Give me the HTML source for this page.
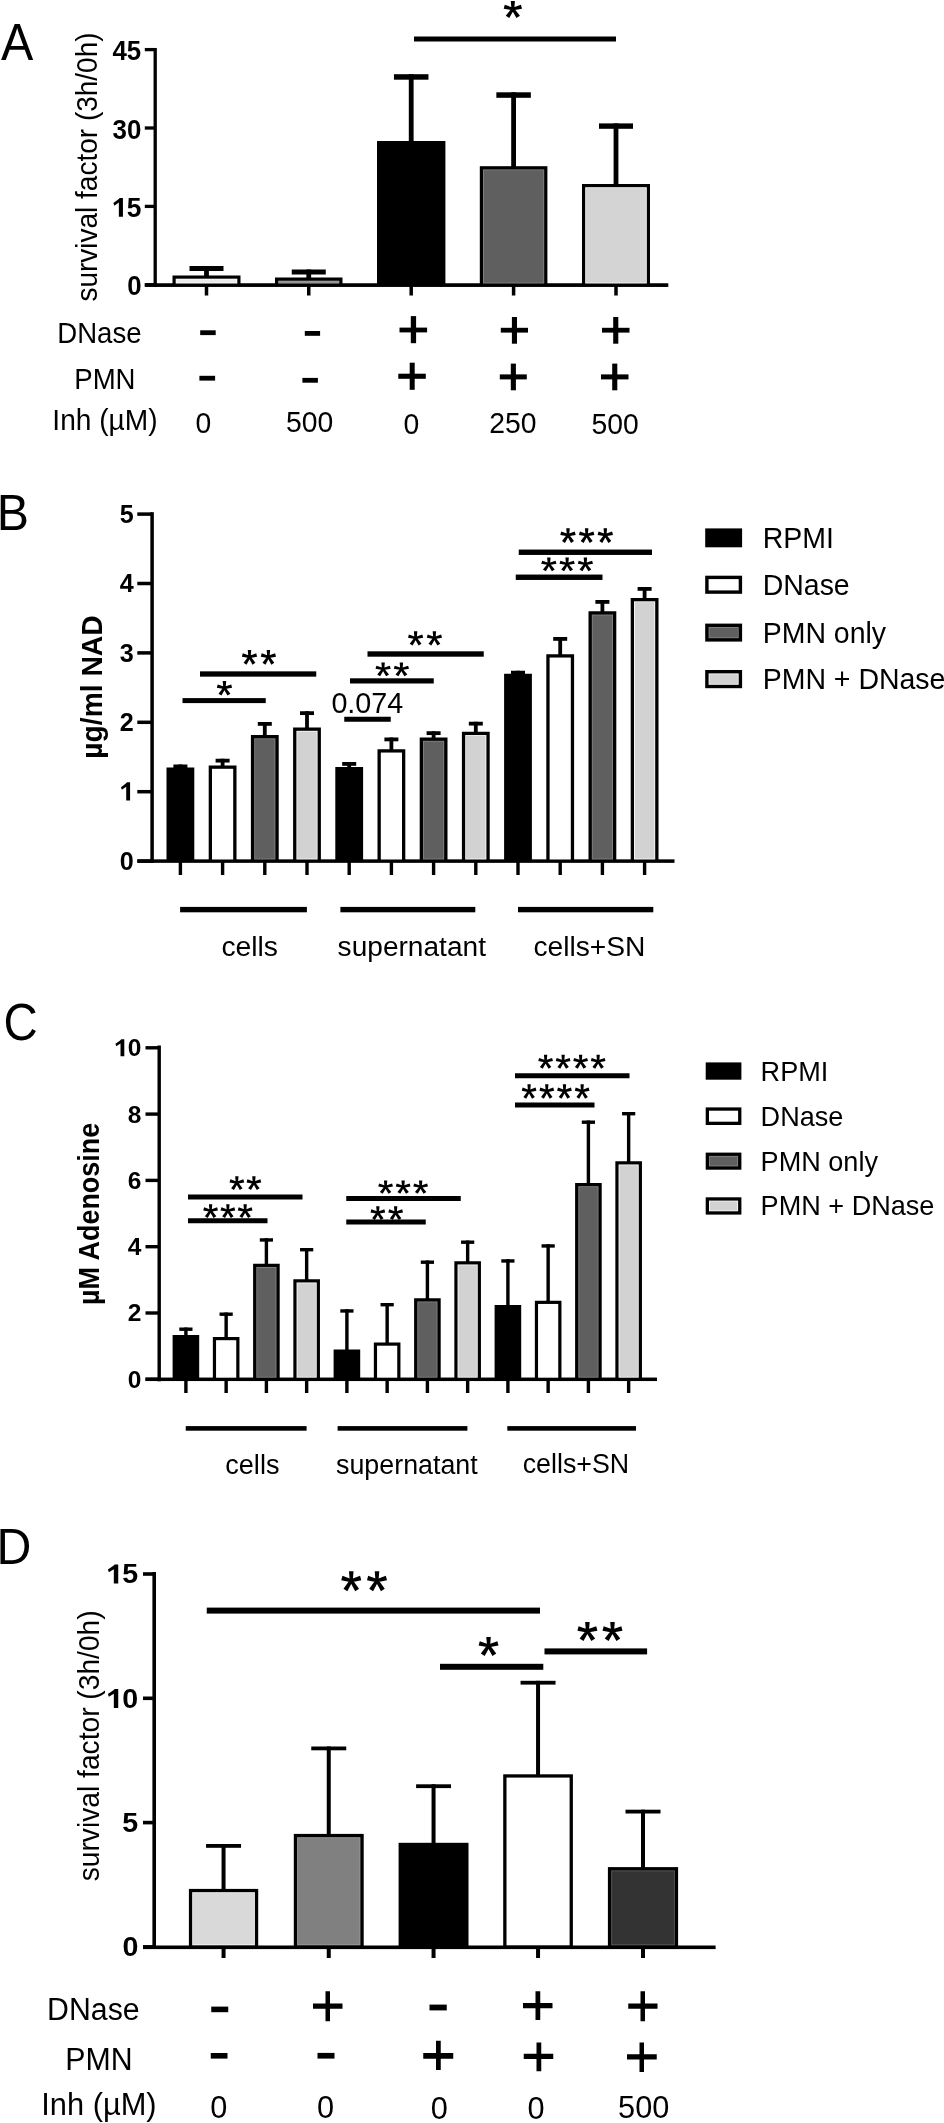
<!DOCTYPE html>
<html><head><meta charset="utf-8"><style>
html,body{margin:0;padding:0;background:#fff;}
svg{display:block;will-change:transform;}
text{font-family:"Liberation Sans", sans-serif;fill:#000;}
</style></head><body>
<svg width="944" height="2123" viewBox="0 0 944 2123">
<rect width="944" height="2123" fill="#fff"/>
<text transform="translate(1.01,60.20) scale(1,1.0539)" font-size="48.41">A</text>
<rect x="153.55" y="48.00" width="3.30" height="239.00" fill="#000"/>
<rect x="144.80" y="47.95" width="10.40" height="3.30" fill="#000"/>
<rect x="144.80" y="126.35" width="10.40" height="3.30" fill="#000"/>
<rect x="144.80" y="204.75" width="10.40" height="3.30" fill="#000"/>
<rect x="144.80" y="283.15" width="10.40" height="3.30" fill="#000"/>
<text transform="translate(112.41,60.04) scale(1,1.0384)" font-size="25.81" font-weight="bold">45</text>
<text transform="translate(112.60,138.79) scale(1,1.0648)" font-size="25.95" font-weight="bold">30</text>
<path d="M118.85,216.83 L122.93,216.83 L122.93,197.90 L119.70,197.90 L118.11,199.50 L113.36,202.94 L114.28,205.69 L118.85,202.52Z" fill="#000"/>
<text transform="translate(112.04,216.83) scale(1,1.0410)" font-size="26.43" font-weight="bold"> 5</text>
<text transform="translate(127.30,294.73) scale(1,1.0384)" font-size="25.81" font-weight="bold">0</text>
<rect x="144.80" y="283.25" width="523.50" height="3.70" fill="#000"/>
<text transform="translate(97.14,301.58) rotate(-90) scale(1,1.0270)" font-size="28.01">survival factor (3h/0h)</text>
<rect x="189.50" y="266.00" width="34.00" height="5.00" fill="#000"/>
<rect x="204.10" y="266.00" width="4.80" height="10.50" fill="#000"/>
<rect x="172.50" y="275.50" width="68.00" height="9.60" fill="#000"/>
<rect x="175.70" y="278.70" width="61.60" height="4.80" fill="#fbfbfb"/>
<rect x="176.60" y="279.60" width="59.80" height="3.00" fill="#ebebeb"/>
<rect x="204.75" y="285.00" width="3.50" height="10.50" fill="#000"/>
<rect x="291.75" y="269.50" width="34.00" height="5.00" fill="#000"/>
<rect x="306.35" y="269.50" width="4.80" height="9.00" fill="#000"/>
<rect x="275.00" y="277.50" width="67.50" height="7.60" fill="#000"/>
<rect x="278.20" y="280.70" width="61.10" height="2.80" fill="#a3a3a3"/>
<rect x="279.10" y="281.60" width="59.30" height="1.00" fill="#8a8a8a"/>
<rect x="307.00" y="285.00" width="3.50" height="10.50" fill="#000"/>
<rect x="393.95" y="74.20" width="34.50" height="5.50" fill="#000"/>
<rect x="408.80" y="74.20" width="4.80" height="67.80" fill="#000"/>
<rect x="377.00" y="141.00" width="68.40" height="144.10" fill="#000"/>
<rect x="409.45" y="285.00" width="3.50" height="10.50" fill="#000"/>
<rect x="496.35" y="92.30" width="34.50" height="5.50" fill="#000"/>
<rect x="511.20" y="92.30" width="4.80" height="74.90" fill="#000"/>
<rect x="479.80" y="166.20" width="67.60" height="118.90" fill="#000"/>
<rect x="483.00" y="169.40" width="61.20" height="114.10" fill="#828282"/>
<rect x="483.90" y="170.30" width="59.40" height="112.30" fill="#5f5f5f"/>
<rect x="511.85" y="285.00" width="3.50" height="10.50" fill="#000"/>
<rect x="599.00" y="123.40" width="34.00" height="5.40" fill="#000"/>
<rect x="613.60" y="123.40" width="4.80" height="61.60" fill="#000"/>
<rect x="582.00" y="184.00" width="68.00" height="101.10" fill="#000"/>
<rect x="585.20" y="187.20" width="61.60" height="96.30" fill="#f6f6f6"/>
<rect x="586.10" y="188.10" width="59.80" height="94.50" fill="#d4d4d4"/>
<rect x="614.25" y="285.00" width="3.50" height="10.50" fill="#000"/>
<rect x="414.00" y="36.50" width="202.00" height="5.00" fill="#000"/>
<path d="M514.24,8.98 L514.93,0.95 L510.77,0.95 L511.46,8.98Z M513.21,10.27 L522.00,8.69 L520.92,4.83 L512.49,7.69Z M513.21,7.69 L504.78,4.83 L503.70,8.69 L512.49,10.27Z M511.68,9.71 L516.47,18.00 L519.96,15.82 L514.02,8.25Z M511.68,8.25 L505.74,15.82 L509.23,18.00 L514.02,9.71Z " fill="#000"/>
<text transform="translate(57.25,342.60) scale(1,1.0850)" font-size="27.60">DNase</text>
<text transform="translate(74.23,388.80) scale(1,1.0850)" font-size="27.60">PMN</text>
<text transform="translate(52.33,429.80) scale(1,1.0700)" font-size="28.10">Inh (µM)</text>
<rect x="200.20" y="330.30" width="15.50" height="4.80" fill="#000"/>
<rect x="199.40" y="375.80" width="15.70" height="4.80" fill="#000"/>
<rect x="304.80" y="331.00" width="15.30" height="4.80" fill="#000"/>
<rect x="302.40" y="377.90" width="15.50" height="4.80" fill="#000"/>
<rect x="399.50" y="327.60" width="27.60" height="4.80" fill="#000"/>
<rect x="410.80" y="316.10" width="5.30" height="27.10" fill="#000"/>
<rect x="398.30" y="373.70" width="27.50" height="5.10" fill="#000"/>
<rect x="409.70" y="362.70" width="5.00" height="27.10" fill="#000"/>
<rect x="500.80" y="327.80" width="27.20" height="4.80" fill="#000"/>
<rect x="511.90" y="317.00" width="5.10" height="26.70" fill="#000"/>
<rect x="499.80" y="374.40" width="27.00" height="5.00" fill="#000"/>
<rect x="510.80" y="363.60" width="5.10" height="26.70" fill="#000"/>
<rect x="602.00" y="327.80" width="27.50" height="4.80" fill="#000"/>
<rect x="613.20" y="317.00" width="5.10" height="26.70" fill="#000"/>
<rect x="601.00" y="374.40" width="27.50" height="5.00" fill="#000"/>
<rect x="612.20" y="363.60" width="5.10" height="26.70" fill="#000"/>
<text transform="translate(195.58,432.90) scale(1,1.0700)" font-size="28.30">0</text>
<text transform="translate(285.93,432.30) scale(1,1.0700)" font-size="28.30">500</text>
<text transform="translate(403.48,433.50) scale(1,1.0700)" font-size="28.30">0</text>
<text transform="translate(489.33,432.70) scale(1,1.0700)" font-size="28.30">250</text>
<text transform="translate(591.53,434.20) scale(1,1.0700)" font-size="28.30">500</text>
<text transform="translate(-3.16,529.60) scale(1,1.0355)" font-size="48.29">B</text>
<rect x="150.35" y="512.20" width="3.50" height="350.80" fill="#000"/>
<rect x="137.30" y="859.35" width="14.80" height="3.50" fill="#000"/>
<rect x="137.30" y="789.95" width="14.80" height="3.50" fill="#000"/>
<rect x="137.30" y="720.55" width="14.80" height="3.50" fill="#000"/>
<rect x="137.30" y="651.15" width="14.80" height="3.50" fill="#000"/>
<rect x="137.30" y="581.75" width="14.80" height="3.50" fill="#000"/>
<rect x="137.30" y="512.35" width="14.80" height="3.50" fill="#000"/>
<text transform="translate(119.72,869.88) scale(1,1.0500)" font-size="25.15" font-weight="bold">0</text>
<path d="M126.21,800.48 L130.08,800.48 L130.08,782.32 L127.02,782.32 L125.51,783.85 L120.98,787.15 L121.86,789.79 L126.21,786.75Z" fill="#000"/>
<text transform="translate(119.72,800.48) scale(1,1.0500)" font-size="25.15" font-weight="bold"> </text>
<text transform="translate(119.72,731.08) scale(1,1.0500)" font-size="25.15" font-weight="bold">2</text>
<text transform="translate(119.72,661.68) scale(1,1.0500)" font-size="25.15" font-weight="bold">3</text>
<text transform="translate(119.72,592.28) scale(1,1.0500)" font-size="25.15" font-weight="bold">4</text>
<text transform="translate(119.72,522.88) scale(1,1.0500)" font-size="25.15" font-weight="bold">5</text>
<rect x="137.50" y="859.35" width="537.00" height="3.50" fill="#000"/>
<text transform="translate(101.90,758.75) rotate(-90) scale(1,1.0699)" font-size="28.26" font-weight="bold">µg/ml NAD</text>
<rect x="173.40" y="764.50" width="14.00" height="3.80" fill="#000"/>
<rect x="178.50" y="764.50" width="3.80" height="4.00" fill="#000"/>
<rect x="166.50" y="767.50" width="27.80" height="93.60" fill="#000"/>
<rect x="178.70" y="861.10" width="3.40" height="13.90" fill="#000"/>
<rect x="215.60" y="758.75" width="14.00" height="3.80" fill="#000"/>
<rect x="220.70" y="758.75" width="3.80" height="7.75" fill="#000"/>
<rect x="208.70" y="765.50" width="27.80" height="95.60" fill="#000"/>
<rect x="212.00" y="768.80" width="21.20" height="90.70" fill="#fff"/>
<rect x="220.90" y="861.10" width="3.40" height="13.90" fill="#000"/>
<rect x="257.80" y="722.00" width="14.00" height="3.80" fill="#000"/>
<rect x="262.90" y="722.00" width="3.80" height="14.00" fill="#000"/>
<rect x="250.90" y="735.00" width="27.80" height="126.10" fill="#000"/>
<rect x="254.20" y="738.30" width="21.20" height="121.20" fill="#828282"/>
<rect x="255.10" y="739.20" width="19.40" height="119.40" fill="#5f5f5f"/>
<rect x="263.10" y="861.10" width="3.40" height="13.90" fill="#000"/>
<rect x="300.00" y="711.25" width="14.00" height="3.80" fill="#000"/>
<rect x="305.10" y="711.25" width="3.80" height="17.25" fill="#000"/>
<rect x="293.10" y="727.50" width="27.80" height="133.60" fill="#000"/>
<rect x="296.40" y="730.80" width="21.20" height="128.70" fill="#f6f6f6"/>
<rect x="297.30" y="731.70" width="19.40" height="126.90" fill="#d2d2d2"/>
<rect x="305.30" y="861.10" width="3.40" height="13.90" fill="#000"/>
<rect x="342.20" y="762.00" width="14.00" height="3.80" fill="#000"/>
<rect x="347.30" y="762.00" width="3.80" height="6.00" fill="#000"/>
<rect x="335.30" y="767.00" width="27.80" height="94.10" fill="#000"/>
<rect x="347.50" y="861.10" width="3.40" height="13.90" fill="#000"/>
<rect x="384.40" y="737.50" width="14.00" height="3.80" fill="#000"/>
<rect x="389.50" y="737.50" width="3.80" height="12.75" fill="#000"/>
<rect x="377.50" y="749.25" width="27.80" height="111.85" fill="#000"/>
<rect x="380.80" y="752.55" width="21.20" height="106.95" fill="#fff"/>
<rect x="389.70" y="861.10" width="3.40" height="13.90" fill="#000"/>
<rect x="426.60" y="731.25" width="14.00" height="3.80" fill="#000"/>
<rect x="431.70" y="731.25" width="3.80" height="7.25" fill="#000"/>
<rect x="419.70" y="737.50" width="27.80" height="123.60" fill="#000"/>
<rect x="423.00" y="740.80" width="21.20" height="118.70" fill="#828282"/>
<rect x="423.90" y="741.70" width="19.40" height="116.90" fill="#5f5f5f"/>
<rect x="431.90" y="861.10" width="3.40" height="13.90" fill="#000"/>
<rect x="468.80" y="721.75" width="14.00" height="3.80" fill="#000"/>
<rect x="473.90" y="721.75" width="3.80" height="11.00" fill="#000"/>
<rect x="461.90" y="731.75" width="27.80" height="129.35" fill="#000"/>
<rect x="465.20" y="735.05" width="21.20" height="124.45" fill="#f6f6f6"/>
<rect x="466.10" y="735.95" width="19.40" height="122.65" fill="#d2d2d2"/>
<rect x="474.10" y="861.10" width="3.40" height="13.90" fill="#000"/>
<rect x="511.00" y="670.75" width="14.00" height="3.80" fill="#000"/>
<rect x="516.10" y="670.75" width="3.80" height="4.00" fill="#000"/>
<rect x="504.10" y="673.75" width="27.80" height="187.35" fill="#000"/>
<rect x="516.30" y="861.10" width="3.40" height="13.90" fill="#000"/>
<rect x="553.20" y="637.00" width="14.00" height="3.80" fill="#000"/>
<rect x="558.30" y="637.00" width="3.80" height="18.25" fill="#000"/>
<rect x="546.30" y="654.25" width="27.80" height="206.85" fill="#000"/>
<rect x="549.60" y="657.55" width="21.20" height="201.95" fill="#fff"/>
<rect x="558.50" y="861.10" width="3.40" height="13.90" fill="#000"/>
<rect x="595.40" y="600.00" width="14.00" height="3.80" fill="#000"/>
<rect x="600.50" y="600.00" width="3.80" height="12.25" fill="#000"/>
<rect x="588.50" y="611.25" width="27.80" height="249.85" fill="#000"/>
<rect x="591.80" y="614.55" width="21.20" height="244.95" fill="#828282"/>
<rect x="592.70" y="615.45" width="19.40" height="243.15" fill="#5f5f5f"/>
<rect x="600.70" y="861.10" width="3.40" height="13.90" fill="#000"/>
<rect x="637.60" y="587.00" width="14.00" height="3.80" fill="#000"/>
<rect x="642.70" y="587.00" width="3.80" height="12.00" fill="#000"/>
<rect x="630.70" y="598.00" width="27.80" height="263.10" fill="#000"/>
<rect x="634.00" y="601.30" width="21.20" height="258.20" fill="#f6f6f6"/>
<rect x="634.90" y="602.20" width="19.40" height="256.40" fill="#d2d2d2"/>
<rect x="642.90" y="861.10" width="3.40" height="13.90" fill="#000"/>
<rect x="182.50" y="698.10" width="83.25" height="5.00" fill="#000"/>
<path d="M225.61,687.93 L226.19,681.10 L222.71,681.10 L223.29,687.93Z M224.75,689.03 L232.10,687.69 L231.20,684.40 L224.15,686.83Z M224.75,686.83 L217.70,684.40 L216.80,687.69 L224.15,689.03Z M223.47,688.55 L227.47,695.60 L230.39,693.75 L225.43,687.31Z M223.47,687.31 L218.51,693.75 L221.43,695.60 L225.43,688.55Z " fill="#000"/>
<rect x="200.00" y="671.35" width="116.25" height="5.30" fill="#000"/>
<path d="M250.66,656.92 L251.23,650.00 L247.77,650.00 L248.34,656.92Z M249.80,658.04 L257.10,656.68 L256.21,653.35 L249.20,655.81Z M249.80,655.81 L242.79,653.35 L241.90,656.68 L249.20,658.04Z M248.53,657.55 L252.50,664.70 L255.40,662.82 L250.47,656.29Z M248.53,656.29 L243.60,662.82 L246.50,664.70 L250.47,657.55Z " fill="#000"/>
<path d="M269.56,656.92 L270.13,650.00 L266.67,650.00 L267.24,656.92Z M268.70,658.04 L276.00,656.68 L275.11,653.35 L268.10,655.81Z M268.70,655.81 L261.69,653.35 L260.80,656.68 L268.10,658.04Z M267.43,657.55 L271.40,664.70 L274.30,662.82 L269.37,656.29Z M267.43,656.29 L262.50,662.82 L265.40,664.70 L269.37,657.55Z " fill="#000"/>
<rect x="344.25" y="716.75" width="46.50" height="5.00" fill="#000"/>
<text transform="translate(331.38,712.72) scale(1,1.0068)" font-size="28.76">0.074</text>
<rect x="350.00" y="678.30" width="83.75" height="5.20" fill="#000"/>
<path d="M384.26,668.98 L384.83,662.50 L381.37,662.50 L381.94,668.98Z M383.40,670.02 L390.70,668.74 L389.81,665.63 L382.80,667.93Z M383.40,667.93 L376.39,665.63 L375.50,668.74 L382.80,670.02Z M382.13,669.56 L386.10,676.25 L389.00,674.49 L384.07,668.39Z M382.13,668.39 L377.20,674.49 L380.10,676.25 L384.07,669.56Z " fill="#000"/>
<path d="M402.56,668.98 L403.13,662.50 L399.67,662.50 L400.24,668.98Z M401.70,670.02 L409.00,668.74 L408.11,665.63 L401.10,667.93Z M401.70,667.93 L394.69,665.63 L393.80,668.74 L401.10,670.02Z M400.43,669.56 L404.40,676.25 L407.30,674.49 L402.37,668.39Z M400.43,668.39 L395.50,674.49 L398.40,676.25 L402.37,669.56Z " fill="#000"/>
<rect x="367.50" y="651.30" width="116.25" height="5.40" fill="#000"/>
<path d="M416.76,637.96 L417.33,631.25 L413.87,631.25 L414.44,637.96Z M415.90,639.04 L423.20,637.72 L422.31,634.49 L415.30,636.88Z M415.90,636.88 L408.89,634.49 L408.00,637.72 L415.30,639.04Z M414.63,638.57 L418.60,645.50 L421.50,643.68 L416.57,637.35Z M414.63,637.35 L409.70,643.68 L412.60,645.50 L416.57,638.57Z " fill="#000"/>
<path d="M435.56,637.96 L436.13,631.25 L432.67,631.25 L433.24,637.96Z M434.70,639.04 L442.00,637.72 L441.11,634.49 L434.10,636.88Z M434.70,636.88 L427.69,634.49 L426.80,637.72 L434.10,639.04Z M433.43,638.57 L437.40,645.50 L440.30,643.68 L435.37,637.35Z M433.43,637.35 L428.50,643.68 L431.40,645.50 L435.37,638.57Z " fill="#000"/>
<rect x="515.75" y="574.55" width="86.75" height="5.40" fill="#000"/>
<path d="M550.01,563.98 L550.58,557.50 L547.12,557.50 L547.69,563.98Z M549.15,565.02 L556.45,563.74 L555.56,560.63 L548.55,562.93Z M549.15,562.93 L542.14,560.63 L541.25,563.74 L548.55,565.02Z M547.88,564.56 L551.85,571.25 L554.75,569.49 L549.82,563.39Z M547.88,563.39 L542.95,569.49 L545.85,571.25 L549.82,564.56Z " fill="#000"/>
<path d="M568.28,563.98 L568.85,557.50 L565.40,557.50 L565.97,563.98Z M567.42,565.02 L574.73,563.74 L573.83,560.63 L566.83,562.93Z M567.42,562.93 L560.42,560.63 L559.52,563.74 L566.83,565.02Z M566.15,564.56 L570.13,571.25 L573.03,569.49 L568.10,563.39Z M566.15,563.39 L561.22,569.49 L564.12,571.25 L568.10,564.56Z " fill="#000"/>
<path d="M586.56,563.98 L587.13,557.50 L583.67,557.50 L584.24,563.98Z M585.70,565.02 L593.00,563.74 L592.11,560.63 L585.10,562.93Z M585.70,562.93 L578.69,560.63 L577.80,563.74 L585.10,565.02Z M584.43,564.56 L588.40,571.25 L591.30,569.49 L586.37,563.39Z M584.43,563.39 L579.50,569.49 L582.40,571.25 L586.37,564.56Z " fill="#000"/>
<rect x="518.75" y="549.55" width="133.25" height="5.40" fill="#000"/>
<path d="M569.17,535.12 L569.75,528.20 L566.25,528.20 L566.83,535.12Z M568.30,536.24 L575.70,534.88 L574.79,531.55 L567.70,534.01Z M568.30,534.01 L561.21,531.55 L560.30,534.88 L567.70,536.24Z M567.02,535.75 L571.04,542.90 L573.98,541.02 L568.98,534.49Z M567.02,534.49 L562.02,541.02 L564.96,542.90 L568.98,535.75Z " fill="#000"/>
<path d="M587.82,535.12 L588.40,528.20 L584.90,528.20 L585.48,535.12Z M586.95,536.24 L594.35,534.88 L593.44,531.55 L586.35,534.01Z M586.95,534.01 L579.86,531.55 L578.95,534.88 L586.35,536.24Z M585.67,535.75 L589.69,542.90 L592.63,541.02 L587.63,534.49Z M585.67,534.49 L580.67,541.02 L583.61,542.90 L587.63,535.75Z " fill="#000"/>
<path d="M606.47,535.12 L607.05,528.20 L603.55,528.20 L604.13,535.12Z M605.60,536.24 L613.00,534.88 L612.09,531.55 L605.00,534.01Z M605.60,534.01 L598.51,531.55 L597.60,534.88 L605.00,536.24Z M604.32,535.75 L608.34,542.90 L611.28,541.02 L606.28,534.49Z M604.32,534.49 L599.32,541.02 L602.26,542.90 L606.28,535.75Z " fill="#000"/>
<rect x="180.10" y="906.90" width="126.80" height="5.40" fill="#000"/>
<rect x="340.40" y="906.90" width="134.90" height="5.40" fill="#000"/>
<rect x="518.00" y="906.90" width="135.30" height="5.40" fill="#000"/>
<text transform="translate(221.40,956.40) scale(1,0.9946)" font-size="28.31">cells</text>
<text transform="translate(337.62,956.40) scale(1,1.0021)" font-size="28.09">supernatant</text>
<text transform="translate(533.40,956.20) scale(1,0.9980)" font-size="28.21">cells+SN</text>
<rect x="705.20" y="528.40" width="36.90" height="18.90" fill="#000"/>
<text transform="translate(762.66,547.80) scale(1,1.0450)" font-size="28.50">RPMI</text>
<rect x="705.20" y="575.70" width="36.90" height="18.10" fill="#000"/>
<rect x="708.60" y="579.10" width="30.10" height="11.30" fill="#fff"/>
<text transform="translate(762.66,594.80) scale(1,1.0450)" font-size="28.50">DNase</text>
<rect x="705.20" y="623.60" width="36.90" height="18.00" fill="#000"/>
<rect x="708.60" y="627.00" width="30.10" height="11.20" fill="#828282"/>
<rect x="709.50" y="627.90" width="28.30" height="9.40" fill="#5f5f5f"/>
<text transform="translate(762.66,642.70) scale(1,1.0450)" font-size="28.50">PMN only</text>
<rect x="705.20" y="670.00" width="36.90" height="18.20" fill="#000"/>
<rect x="708.60" y="673.40" width="30.10" height="11.40" fill="#f6f6f6"/>
<rect x="709.50" y="674.30" width="28.30" height="9.60" fill="#d2d2d2"/>
<text transform="translate(762.66,689.40) scale(1,1.0450)" font-size="28.50">PMN + DNase</text>
<text transform="translate(3.39,1039.50) scale(1,1.0793)" font-size="47.37">C</text>
<rect x="157.50" y="1045.50" width="3.40" height="335.80" fill="#000"/>
<rect x="145.50" y="1377.60" width="13.70" height="3.40" fill="#000"/>
<rect x="145.50" y="1311.30" width="13.70" height="3.40" fill="#000"/>
<rect x="145.50" y="1245.00" width="13.70" height="3.40" fill="#000"/>
<rect x="145.50" y="1178.70" width="13.70" height="3.40" fill="#000"/>
<rect x="145.50" y="1112.40" width="13.70" height="3.40" fill="#000"/>
<rect x="145.50" y="1046.10" width="13.70" height="3.40" fill="#000"/>
<text x="127.83" y="1387.73" font-size="24.50" font-weight="bold">0</text>
<text x="127.83" y="1321.43" font-size="24.50" font-weight="bold">2</text>
<text x="127.83" y="1255.13" font-size="24.50" font-weight="bold">4</text>
<text x="127.83" y="1188.83" font-size="24.50" font-weight="bold">6</text>
<text x="127.83" y="1122.53" font-size="24.50" font-weight="bold">8</text>
<path d="M120.52,1056.23 L124.30,1056.23 L124.30,1039.37 L121.31,1039.37 L119.84,1040.79 L115.43,1043.86 L116.29,1046.31 L120.52,1043.49Z" fill="#000"/>
<text x="114.20" y="1056.23" font-size="24.50" font-weight="bold"> 0</text>
<rect x="145.50" y="1377.55" width="511.50" height="3.50" fill="#000"/>
<text transform="translate(98.70,1304.96) rotate(-90) scale(1,1.0621)" font-size="26.96" font-weight="bold">µM Adenosine</text>
<rect x="179.30" y="1327.50" width="13.20" height="3.40" fill="#000"/>
<rect x="184.20" y="1327.50" width="3.40" height="8.50" fill="#000"/>
<rect x="172.60" y="1335.00" width="26.60" height="44.30" fill="#000"/>
<rect x="184.20" y="1379.30" width="3.40" height="13.70" fill="#000"/>
<rect x="219.55" y="1312.50" width="13.20" height="3.40" fill="#000"/>
<rect x="224.45" y="1312.50" width="3.40" height="25.50" fill="#000"/>
<rect x="212.85" y="1337.00" width="26.60" height="42.30" fill="#000"/>
<rect x="216.05" y="1340.20" width="20.20" height="37.50" fill="#fff"/>
<rect x="224.45" y="1379.30" width="3.40" height="13.70" fill="#000"/>
<rect x="259.80" y="1238.25" width="13.20" height="3.40" fill="#000"/>
<rect x="264.70" y="1238.25" width="3.40" height="26.50" fill="#000"/>
<rect x="253.10" y="1263.75" width="26.60" height="115.55" fill="#000"/>
<rect x="256.30" y="1266.95" width="20.20" height="110.75" fill="#828282"/>
<rect x="257.20" y="1267.85" width="18.40" height="108.95" fill="#5f5f5f"/>
<rect x="264.70" y="1379.30" width="3.40" height="13.70" fill="#000"/>
<rect x="300.05" y="1248.00" width="13.20" height="3.40" fill="#000"/>
<rect x="304.95" y="1248.00" width="3.40" height="32.25" fill="#000"/>
<rect x="293.35" y="1279.25" width="26.60" height="100.05" fill="#000"/>
<rect x="296.55" y="1282.45" width="20.20" height="95.25" fill="#f6f6f6"/>
<rect x="297.45" y="1283.35" width="18.40" height="93.45" fill="#d2d2d2"/>
<rect x="304.95" y="1379.30" width="3.40" height="13.70" fill="#000"/>
<rect x="340.30" y="1309.25" width="13.20" height="3.40" fill="#000"/>
<rect x="345.20" y="1309.25" width="3.40" height="41.25" fill="#000"/>
<rect x="333.60" y="1349.50" width="26.60" height="29.80" fill="#000"/>
<rect x="345.20" y="1379.30" width="3.40" height="13.70" fill="#000"/>
<rect x="380.55" y="1303.00" width="13.20" height="3.40" fill="#000"/>
<rect x="385.45" y="1303.00" width="3.40" height="40.50" fill="#000"/>
<rect x="373.85" y="1342.50" width="26.60" height="36.80" fill="#000"/>
<rect x="377.05" y="1345.70" width="20.20" height="32.00" fill="#fff"/>
<rect x="385.45" y="1379.30" width="3.40" height="13.70" fill="#000"/>
<rect x="420.80" y="1260.50" width="13.20" height="3.40" fill="#000"/>
<rect x="425.70" y="1260.50" width="3.40" height="38.75" fill="#000"/>
<rect x="414.10" y="1298.25" width="26.60" height="81.05" fill="#000"/>
<rect x="417.30" y="1301.45" width="20.20" height="76.25" fill="#828282"/>
<rect x="418.20" y="1302.35" width="18.40" height="74.45" fill="#5f5f5f"/>
<rect x="425.70" y="1379.30" width="3.40" height="13.70" fill="#000"/>
<rect x="461.05" y="1240.50" width="13.20" height="3.40" fill="#000"/>
<rect x="465.95" y="1240.50" width="3.40" height="21.75" fill="#000"/>
<rect x="454.35" y="1261.25" width="26.60" height="118.05" fill="#000"/>
<rect x="457.55" y="1264.45" width="20.20" height="113.25" fill="#f6f6f6"/>
<rect x="458.45" y="1265.35" width="18.40" height="111.45" fill="#d2d2d2"/>
<rect x="465.95" y="1379.30" width="3.40" height="13.70" fill="#000"/>
<rect x="501.30" y="1259.25" width="13.20" height="3.40" fill="#000"/>
<rect x="506.20" y="1259.25" width="3.40" height="46.75" fill="#000"/>
<rect x="494.60" y="1305.00" width="26.60" height="74.30" fill="#000"/>
<rect x="506.20" y="1379.30" width="3.40" height="13.70" fill="#000"/>
<rect x="541.55" y="1244.25" width="13.20" height="3.40" fill="#000"/>
<rect x="546.45" y="1244.25" width="3.40" height="57.50" fill="#000"/>
<rect x="534.85" y="1300.75" width="26.60" height="78.55" fill="#000"/>
<rect x="538.05" y="1303.95" width="20.20" height="73.75" fill="#fff"/>
<rect x="546.45" y="1379.30" width="3.40" height="13.70" fill="#000"/>
<rect x="581.80" y="1120.50" width="13.20" height="3.40" fill="#000"/>
<rect x="586.70" y="1120.50" width="3.40" height="63.50" fill="#000"/>
<rect x="575.10" y="1183.00" width="26.60" height="196.30" fill="#000"/>
<rect x="578.30" y="1186.20" width="20.20" height="191.50" fill="#828282"/>
<rect x="579.20" y="1187.10" width="18.40" height="189.70" fill="#5f5f5f"/>
<rect x="586.70" y="1379.30" width="3.40" height="13.70" fill="#000"/>
<rect x="622.05" y="1112.00" width="13.20" height="3.40" fill="#000"/>
<rect x="626.95" y="1112.00" width="3.40" height="50.25" fill="#000"/>
<rect x="615.35" y="1161.25" width="26.60" height="218.05" fill="#000"/>
<rect x="618.55" y="1164.45" width="20.20" height="213.25" fill="#f6f6f6"/>
<rect x="619.45" y="1165.35" width="18.40" height="211.45" fill="#d2d2d2"/>
<rect x="626.95" y="1379.30" width="3.40" height="13.70" fill="#000"/>
<rect x="188.00" y="1194.50" width="114.50" height="5.00" fill="#000"/>
<path d="M237.97,1182.70 L238.52,1176.20 L235.18,1176.20 L235.73,1182.70Z M237.14,1183.75 L244.20,1182.47 L243.34,1179.34 L236.56,1181.65Z M237.14,1181.65 L230.36,1179.34 L229.50,1182.47 L236.56,1183.75Z M235.91,1183.29 L239.76,1190.00 L242.56,1188.24 L237.79,1182.11Z M235.91,1182.11 L231.14,1188.24 L233.94,1190.00 L237.79,1183.29Z " fill="#000"/>
<path d="M255.02,1182.70 L255.57,1176.20 L252.23,1176.20 L252.78,1182.70Z M254.19,1183.75 L261.25,1182.47 L260.39,1179.34 L253.61,1181.65Z M254.19,1181.65 L247.41,1179.34 L246.55,1182.47 L253.61,1183.75Z M252.96,1183.29 L256.81,1190.00 L259.61,1188.24 L254.84,1182.11Z M252.96,1182.11 L248.19,1188.24 L250.99,1190.00 L254.84,1183.29Z " fill="#000"/>
<rect x="188.00" y="1218.25" width="79.50" height="5.00" fill="#000"/>
<path d="M211.72,1210.70 L212.27,1204.20 L208.93,1204.20 L209.48,1210.70Z M210.89,1211.75 L217.95,1210.47 L217.09,1207.34 L210.31,1209.65Z M210.89,1209.65 L204.11,1207.34 L203.25,1210.47 L210.31,1211.75Z M209.66,1211.29 L213.51,1218.00 L216.31,1216.24 L211.54,1210.11Z M209.66,1210.11 L204.89,1216.24 L207.69,1218.00 L211.54,1211.29Z " fill="#000"/>
<path d="M228.99,1210.70 L229.55,1204.20 L226.20,1204.20 L226.76,1210.70Z M228.16,1211.75 L235.22,1210.47 L234.36,1207.34 L227.59,1209.65Z M228.16,1209.65 L221.39,1207.34 L220.53,1210.47 L227.59,1211.75Z M226.94,1211.29 L230.78,1218.00 L233.58,1216.24 L228.81,1210.11Z M226.94,1210.11 L222.17,1216.24 L224.97,1218.00 L228.81,1211.29Z " fill="#000"/>
<path d="M246.27,1210.70 L246.82,1204.20 L243.48,1204.20 L244.03,1210.70Z M245.44,1211.75 L252.50,1210.47 L251.64,1207.34 L244.86,1209.65Z M245.44,1209.65 L238.66,1207.34 L237.80,1210.47 L244.86,1211.75Z M244.21,1211.29 L248.06,1218.00 L250.86,1216.24 L246.09,1210.11Z M244.21,1210.11 L239.44,1216.24 L242.24,1218.00 L246.09,1211.29Z " fill="#000"/>
<rect x="346.25" y="1196.00" width="114.50" height="5.00" fill="#000"/>
<path d="M386.72,1186.71 L387.27,1180.45 L383.93,1180.45 L384.48,1186.71Z M385.89,1187.72 L392.95,1186.49 L392.09,1183.48 L385.31,1185.71Z M385.89,1185.71 L379.11,1183.48 L378.25,1186.49 L385.31,1187.72Z M384.66,1187.28 L388.51,1193.75 L391.31,1192.05 L386.54,1186.15Z M384.66,1186.15 L379.89,1192.05 L382.69,1193.75 L386.54,1187.28Z " fill="#000"/>
<path d="M404.24,1186.71 L404.80,1180.45 L401.45,1180.45 L402.01,1186.71Z M403.41,1187.72 L410.47,1186.49 L409.61,1183.48 L402.84,1185.71Z M403.41,1185.71 L396.64,1183.48 L395.77,1186.49 L402.84,1187.72Z M402.19,1187.28 L406.03,1193.75 L408.83,1192.05 L404.06,1186.15Z M402.19,1186.15 L397.42,1192.05 L400.22,1193.75 L404.06,1187.28Z " fill="#000"/>
<path d="M421.77,1186.71 L422.32,1180.45 L418.98,1180.45 L419.53,1186.71Z M420.94,1187.72 L428.00,1186.49 L427.14,1183.48 L420.36,1185.71Z M420.94,1185.71 L414.16,1183.48 L413.30,1186.49 L420.36,1187.72Z M419.71,1187.28 L423.56,1193.75 L426.36,1192.05 L421.59,1186.15Z M419.71,1186.15 L414.94,1192.05 L417.74,1193.75 L421.59,1187.28Z " fill="#000"/>
<rect x="346.25" y="1219.50" width="79.50" height="5.00" fill="#000"/>
<path d="M378.97,1212.70 L379.52,1206.20 L376.18,1206.20 L376.73,1212.70Z M378.14,1213.75 L385.20,1212.47 L384.34,1209.34 L377.56,1211.65Z M378.14,1211.65 L371.36,1209.34 L370.50,1212.47 L377.56,1213.75Z M376.91,1213.29 L380.76,1220.00 L383.56,1218.24 L378.79,1212.11Z M376.91,1212.11 L372.14,1218.24 L374.94,1220.00 L378.79,1213.29Z " fill="#000"/>
<path d="M396.77,1212.70 L397.32,1206.20 L393.98,1206.20 L394.53,1212.70Z M395.94,1213.75 L403.00,1212.47 L402.14,1209.34 L395.36,1211.65Z M395.94,1211.65 L389.16,1209.34 L388.30,1212.47 L395.36,1213.75Z M394.71,1213.29 L398.56,1220.00 L401.36,1218.24 L396.59,1212.11Z M394.71,1212.11 L389.94,1218.24 L392.74,1220.00 L396.59,1213.29Z " fill="#000"/>
<rect x="515.00" y="1073.25" width="114.50" height="5.00" fill="#000"/>
<path d="M546.72,1061.32 L547.27,1054.70 L543.93,1054.70 L544.48,1061.32Z M545.89,1062.38 L552.95,1061.08 L552.09,1057.90 L545.31,1060.25Z M545.89,1060.25 L539.11,1057.90 L538.25,1061.08 L545.31,1062.38Z M544.66,1061.92 L548.51,1068.75 L551.31,1066.96 L546.54,1060.72Z M544.66,1060.72 L539.89,1066.96 L542.69,1068.75 L546.54,1061.92Z " fill="#000"/>
<path d="M564.24,1061.32 L564.79,1054.70 L561.45,1054.70 L562.00,1061.32Z M563.41,1062.38 L570.47,1061.08 L569.60,1057.90 L562.83,1060.25Z M563.41,1060.25 L556.63,1057.90 L555.77,1061.08 L562.83,1062.38Z M562.18,1061.92 L566.02,1068.75 L568.82,1066.96 L564.06,1060.72Z M562.18,1060.72 L557.41,1066.96 L560.21,1068.75 L564.06,1061.92Z " fill="#000"/>
<path d="M581.75,1061.32 L582.30,1054.70 L578.96,1054.70 L579.51,1061.32Z M580.92,1062.38 L587.98,1061.08 L587.12,1057.90 L580.34,1060.25Z M580.92,1060.25 L574.15,1057.90 L573.28,1061.08 L580.34,1062.38Z M579.69,1061.92 L583.54,1068.75 L586.34,1066.96 L581.57,1060.72Z M579.69,1060.72 L574.93,1066.96 L577.73,1068.75 L581.57,1061.92Z " fill="#000"/>
<path d="M599.27,1061.32 L599.82,1054.70 L596.48,1054.70 L597.03,1061.32Z M598.44,1062.38 L605.50,1061.08 L604.64,1057.90 L597.86,1060.25Z M598.44,1060.25 L591.66,1057.90 L590.80,1061.08 L597.86,1062.38Z M597.21,1061.92 L601.06,1068.75 L603.86,1066.96 L599.09,1060.72Z M597.21,1060.72 L592.44,1066.96 L595.24,1068.75 L599.09,1061.92Z " fill="#000"/>
<rect x="515.00" y="1102.50" width="79.50" height="5.00" fill="#000"/>
<path d="M530.22,1091.05 L530.77,1084.20 L527.43,1084.20 L527.98,1091.05Z M529.39,1092.16 L536.45,1090.81 L535.59,1087.51 L528.81,1089.95Z M529.39,1089.95 L522.61,1087.51 L521.75,1090.81 L528.81,1092.16Z M528.16,1091.67 L532.01,1098.75 L534.81,1096.89 L530.04,1090.43Z M528.16,1090.43 L523.39,1096.89 L526.19,1098.75 L530.04,1091.67Z " fill="#000"/>
<path d="M547.90,1091.05 L548.45,1084.20 L545.11,1084.20 L545.66,1091.05Z M547.07,1092.16 L554.13,1090.81 L553.27,1087.51 L546.49,1089.95Z M547.07,1089.95 L540.30,1087.51 L539.43,1090.81 L546.49,1092.16Z M545.84,1091.67 L549.69,1098.75 L552.49,1096.89 L547.72,1090.43Z M545.84,1090.43 L541.08,1096.89 L543.88,1098.75 L547.72,1091.67Z " fill="#000"/>
<path d="M565.59,1091.05 L566.14,1084.20 L562.80,1084.20 L563.35,1091.05Z M564.76,1092.16 L571.82,1090.81 L570.95,1087.51 L564.18,1089.95Z M564.76,1089.95 L557.98,1087.51 L557.12,1090.81 L564.18,1092.16Z M563.53,1091.67 L567.37,1098.75 L570.17,1096.89 L565.41,1090.43Z M563.53,1090.43 L558.76,1096.89 L561.56,1098.75 L565.41,1091.67Z " fill="#000"/>
<path d="M583.27,1091.05 L583.82,1084.20 L580.48,1084.20 L581.03,1091.05Z M582.44,1092.16 L589.50,1090.81 L588.64,1087.51 L581.86,1089.95Z M582.44,1089.95 L575.66,1087.51 L574.80,1090.81 L581.86,1092.16Z M581.21,1091.67 L585.06,1098.75 L587.86,1096.89 L583.09,1090.43Z M581.21,1090.43 L576.44,1096.89 L579.24,1098.75 L583.09,1091.67Z " fill="#000"/>
<rect x="185.75" y="1426.10" width="120.85" height="4.60" fill="#000"/>
<rect x="337.60" y="1426.10" width="129.80" height="4.60" fill="#000"/>
<rect x="507.30" y="1426.10" width="128.70" height="4.60" fill="#000"/>
<text transform="translate(225.25,1474.00) scale(1,1.0233)" font-size="27.11">cells</text>
<text transform="translate(336.05,1473.60) scale(1,1.0138)" font-size="26.82">supernatant</text>
<text transform="translate(522.66,1473.40) scale(1,0.9977)" font-size="26.83">cells+SN</text>
<rect x="705.70" y="1062.40" width="35.70" height="17.30" fill="#000"/>
<text transform="translate(760.58,1080.60) scale(1,1.0450)" font-size="27.10">RPMI</text>
<rect x="705.70" y="1107.40" width="35.70" height="17.60" fill="#000"/>
<rect x="709.00" y="1110.70" width="29.10" height="11.00" fill="#fff"/>
<text transform="translate(760.58,1125.80) scale(1,1.0450)" font-size="27.10">DNase</text>
<rect x="705.70" y="1152.60" width="35.70" height="17.10" fill="#000"/>
<rect x="709.00" y="1155.90" width="29.10" height="10.50" fill="#828282"/>
<rect x="709.90" y="1156.80" width="27.30" height="8.70" fill="#5f5f5f"/>
<text transform="translate(760.58,1171.10) scale(1,1.0450)" font-size="27.10">PMN only</text>
<rect x="705.70" y="1197.30" width="35.70" height="17.30" fill="#000"/>
<rect x="709.00" y="1200.60" width="29.10" height="10.70" fill="#f6f6f6"/>
<rect x="709.90" y="1201.50" width="27.30" height="8.90" fill="#d2d2d2"/>
<text transform="translate(760.58,1215.00) scale(1,1.0450)" font-size="27.10">PMN + DNase</text>
<text transform="translate(-3.46,1563.80) scale(1,1.0415)" font-size="48.29">D</text>
<rect x="152.40" y="1572.00" width="3.60" height="377.00" fill="#000"/>
<rect x="143.00" y="1945.10" width="11.20" height="3.60" fill="#000"/>
<rect x="143.00" y="1820.80" width="11.20" height="3.60" fill="#000"/>
<rect x="143.00" y="1696.50" width="11.20" height="3.60" fill="#000"/>
<rect x="143.00" y="1572.20" width="11.20" height="3.60" fill="#000"/>
<path d="M113.83,1583.48 L118.24,1583.48 L118.24,1564.50 L114.75,1564.50 L113.03,1566.10 L107.88,1569.55 L108.88,1572.31 L113.83,1569.13Z" fill="#000"/>
<text transform="translate(106.45,1583.48) scale(1,0.9635)" font-size="28.63" font-weight="bold"> 5</text>
<path d="M113.83,1707.99 L118.24,1707.99 L118.24,1689.01 L114.75,1689.01 L113.03,1690.61 L107.88,1694.06 L108.88,1696.82 L113.83,1693.64Z" fill="#000"/>
<text transform="translate(106.45,1707.99) scale(1,0.9635)" font-size="28.63" font-weight="bold"> 0</text>
<text transform="translate(122.17,1832.01) scale(1,0.9635)" font-size="28.63" font-weight="bold">5</text>
<text transform="translate(122.55,1956.25) scale(1,0.9635)" font-size="28.63" font-weight="bold">0</text>
<rect x="143.00" y="1945.50" width="572.60" height="3.60" fill="#000"/>
<text transform="translate(98.93,1881.28) rotate(-90) scale(1,1.0738)" font-size="28.19">survival factor (3h/0h)</text>
<rect x="206.05" y="1844.00" width="35.00" height="3.80" fill="#000"/>
<rect x="221.55" y="1844.00" width="4.00" height="45.90" fill="#000"/>
<rect x="188.90" y="1888.90" width="69.30" height="58.00" fill="#000"/>
<rect x="192.20" y="1892.20" width="62.70" height="53.10" fill="#f7f7f7"/>
<rect x="193.10" y="1893.10" width="60.90" height="51.30" fill="#d9d9d9"/>
<rect x="221.55" y="1946.90" width="4.00" height="11.10" fill="#000"/>
<rect x="311.25" y="1746.50" width="35.00" height="3.80" fill="#000"/>
<rect x="326.75" y="1746.50" width="4.00" height="88.40" fill="#000"/>
<rect x="293.80" y="1833.90" width="69.90" height="113.00" fill="#000"/>
<rect x="297.10" y="1837.20" width="63.30" height="108.10" fill="#9b9b9b"/>
<rect x="298.00" y="1838.10" width="61.50" height="106.30" fill="#808080"/>
<rect x="326.75" y="1946.90" width="4.00" height="11.10" fill="#000"/>
<rect x="416.10" y="1784.30" width="34.90" height="3.80" fill="#000"/>
<rect x="431.55" y="1784.30" width="4.00" height="59.50" fill="#000"/>
<rect x="398.60" y="1842.80" width="69.90" height="104.10" fill="#000"/>
<rect x="431.55" y="1946.90" width="4.00" height="11.10" fill="#000"/>
<rect x="520.55" y="1680.80" width="35.00" height="3.80" fill="#000"/>
<rect x="536.05" y="1680.80" width="4.00" height="94.50" fill="#000"/>
<rect x="503.20" y="1774.30" width="69.70" height="172.60" fill="#000"/>
<rect x="506.50" y="1777.60" width="63.10" height="167.70" fill="#fff"/>
<rect x="536.05" y="1946.90" width="4.00" height="11.10" fill="#000"/>
<rect x="625.50" y="1809.70" width="35.00" height="3.80" fill="#000"/>
<rect x="641.00" y="1809.70" width="4.00" height="58.40" fill="#000"/>
<rect x="607.90" y="1867.10" width="70.20" height="79.80" fill="#000"/>
<rect x="611.20" y="1870.40" width="63.60" height="74.90" fill="#5f5f5f"/>
<rect x="612.10" y="1871.30" width="61.80" height="73.10" fill="#333"/>
<rect x="641.00" y="1946.90" width="4.00" height="11.10" fill="#000"/>
<rect x="206.75" y="1607.60" width="333.25" height="6.00" fill="#000"/>
<path d="M352.77,1580.67 L353.52,1571.25 L348.98,1571.25 L349.73,1580.67Z M351.64,1582.19 L361.25,1580.33 L360.07,1575.80 L350.86,1579.15Z M351.64,1579.15 L342.43,1575.80 L341.25,1580.33 L350.86,1582.19Z M349.97,1581.52 L355.20,1591.25 L359.02,1588.70 L352.53,1579.81Z M349.97,1579.81 L343.48,1588.70 L347.30,1591.25 L352.53,1581.52Z " fill="#000"/>
<path d="M378.52,1580.67 L379.27,1571.25 L374.73,1571.25 L375.48,1580.67Z M377.39,1582.19 L387.00,1580.33 L385.82,1575.80 L376.61,1579.15Z M377.39,1579.15 L368.18,1575.80 L367.00,1580.33 L376.61,1582.19Z M375.72,1581.52 L380.95,1591.25 L384.77,1588.70 L378.28,1579.81Z M375.72,1579.81 L369.23,1588.70 L373.05,1591.25 L378.28,1581.52Z " fill="#000"/>
<rect x="440.00" y="1663.80" width="103.30" height="6.00" fill="#000"/>
<path d="M490.06,1645.85 L490.81,1636.90 L486.29,1636.90 L487.04,1645.85Z M488.94,1647.29 L498.50,1645.53 L497.33,1641.23 L488.16,1644.41Z M488.94,1644.41 L479.77,1641.23 L478.60,1645.53 L488.16,1647.29Z M487.28,1646.66 L492.48,1655.90 L496.28,1653.47 L489.82,1645.04Z M487.28,1645.04 L480.82,1653.47 L484.62,1655.90 L489.82,1646.66Z " fill="#000"/>
<rect x="544.50" y="1648.40" width="102.60" height="6.00" fill="#000"/>
<path d="M588.92,1630.95 L589.67,1622.00 L585.13,1622.00 L585.88,1630.95Z M587.79,1632.39 L597.40,1630.63 L596.22,1626.33 L587.01,1629.51Z M587.79,1629.51 L578.58,1626.33 L577.40,1630.63 L587.01,1632.39Z M586.12,1631.76 L591.35,1641.00 L595.17,1638.57 L588.68,1630.14Z M586.12,1630.14 L579.63,1638.57 L583.45,1641.00 L588.68,1631.76Z " fill="#000"/>
<path d="M614.02,1630.95 L614.77,1622.00 L610.23,1622.00 L610.98,1630.95Z M612.89,1632.39 L622.50,1630.63 L621.32,1626.33 L612.11,1629.51Z M612.89,1629.51 L603.68,1626.33 L602.50,1630.63 L612.11,1632.39Z M611.22,1631.76 L616.45,1641.00 L620.27,1638.57 L613.78,1630.14Z M611.22,1630.14 L604.73,1638.57 L608.55,1641.00 L613.78,1631.76Z " fill="#000"/>
<text transform="translate(47.12,2019.60) scale(1,1.0450)" font-size="30.30">DNase</text>
<text transform="translate(65.33,2070.00) scale(1,1.0450)" font-size="30.30">PMN</text>
<text transform="translate(41.29,2115.20) scale(1,1.0400)" font-size="30.80">Inh (µM)</text>
<rect x="211.25" y="2006.60" width="17.00" height="5.60" fill="#000"/>
<rect x="210.75" y="2053.00" width="16.75" height="5.60" fill="#000"/>
<rect x="313.00" y="2003.50" width="29.50" height="5.25" fill="#000"/>
<rect x="325.50" y="1991.25" width="4.50" height="30.00" fill="#000"/>
<rect x="317.50" y="2052.90" width="17.00" height="5.70" fill="#000"/>
<rect x="429.50" y="2004.60" width="17.25" height="5.80" fill="#000"/>
<rect x="423.25" y="2053.00" width="30.00" height="5.75" fill="#000"/>
<rect x="436.00" y="2040.75" width="4.75" height="29.25" fill="#000"/>
<rect x="523.00" y="2003.00" width="29.50" height="5.25" fill="#000"/>
<rect x="535.50" y="1991.25" width="4.75" height="28.75" fill="#000"/>
<rect x="523.75" y="2053.75" width="29.50" height="5.25" fill="#000"/>
<rect x="536.50" y="2042.50" width="4.75" height="28.75" fill="#000"/>
<rect x="628.25" y="2003.50" width="29.25" height="5.25" fill="#000"/>
<rect x="640.50" y="1991.25" width="4.50" height="30.00" fill="#000"/>
<rect x="627.00" y="2054.25" width="29.75" height="5.25" fill="#000"/>
<rect x="639.50" y="2042.50" width="4.50" height="29.50" fill="#000"/>
<text transform="translate(210.16,2118.49) scale(1,1.0300)" font-size="30.70">0</text>
<text transform="translate(317.06,2118.49) scale(1,1.0300)" font-size="30.70">0</text>
<text transform="translate(430.71,2118.89) scale(1,1.0300)" font-size="30.70">0</text>
<text transform="translate(527.46,2118.89) scale(1,1.0300)" font-size="30.70">0</text>
<text transform="translate(618.12,2117.99) scale(1,1.0300)" font-size="30.70">500</text>
</svg></body></html>
